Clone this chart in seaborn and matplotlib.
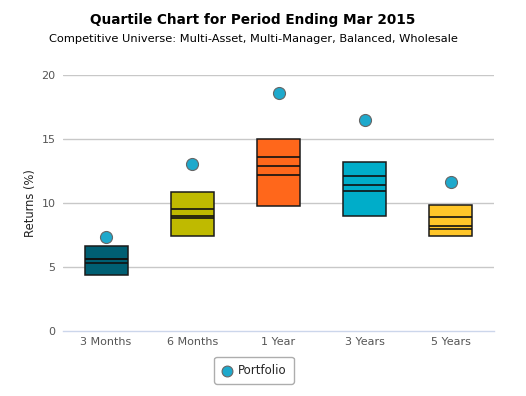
import matplotlib
matplotlib.use("Agg")
import matplotlib.pyplot as plt
import seaborn as sns
import pandas as pd
import numpy as np

periods = ["3 Months", "6 Months", "1 Year", "3 Years", "5 Years"]
box_low = [4.38, 7.42, 9.77, 8.98, 7.40]
box_high = [6.64, 10.83, 14.97, 13.23, 9.87]
q_upper = [5.60, 9.56, 13.57, 12.08, 8.93]
q_mid = [5.60, 8.98, 12.87, 11.38, 8.22]
q_lower = [5.29, 8.85, 12.21, 10.96, 7.99]
portfolio = [7.37, 13.05, 18.62, 16.50, 11.64]
box_colors = ["#005f73", "#bfba00", "#ff671b", "#00adc9", "#ffc629"]

sns.set_style("white")
plt.rcParams['font.family'] = ['DejaVu Sans']

fig = plt.figure(figsize=(5.26, 3.96), dpi=100)
ax = fig.add_axes([63/526, 1-331/396, (494-63)/526, (331-75)/396])

df = pd.DataFrame({"Period": periods, "Portfolio": portfolio})

# gridlines
for g in [5, 10, 15, 20]:
    ax.axhline(g, color="#c8c8c8", lw=1, zorder=0)

xpos = np.arange(len(periods))
ax.bar(xpos, np.array(box_high) - np.array(box_low), bottom=box_low, width=0.5,
       color=box_colors, edgecolor="#1a1a1a", linewidth=1.1, zorder=2)
for arr in (q_upper, q_mid, q_lower):
    ax.hlines(arr, xpos - 0.25, xpos + 0.25, color="#111111", lw=1.2, zorder=3)

sns.scatterplot(data=df, x="Period", y="Portfolio", ax=ax, s=75, color="#1ea9cc",
                edgecolor="#666666", linewidth=0.8, zorder=4, label="Portfolio")

ax.set_xlim(-0.5, 4.5)
ax.set_ylim(0, 20)
ax.set_yticks([0, 5, 10, 15, 20])
ax.set_xticks(xpos)
ax.set_xticklabels(periods)
ax.set_xticks(np.arange(-0.5, 5, 1), minor=True)
ax.tick_params(axis="x", which="major", length=0, pad=4, labelsize=8, labelcolor="#555555")
ax.tick_params(axis="x", which="minor", length=8, color="#ccd6eb", width=1, direction="out")
ax.tick_params(axis="y", length=0, pad=5.5, labelsize=8, labelcolor="#555555")
for s in ["top", "right", "left"]:
    ax.spines[s].set_visible(False)
ax.spines["bottom"].set_color("#ccd6eb")
ax.spines["bottom"].set_linewidth(1)
ax.set_xlabel("")
ax.set_ylabel("Returns (%)", fontsize=8.3, color="#222222", labelpad=3)

leg = ax.legend(loc="upper center", bbox_to_anchor=(0.443, -0.1), frameon=True,
                fontsize=8.5, handletextpad=0.4, borderpad=0.6, fancybox=True,
                markerscale=0.9, handlelength=1.0, borderaxespad=0)
leg.get_frame().set_edgecolor("#999999")
leg.get_frame().set_linewidth(1)

fig.text(253/526, 1-20/396, "Quartile Chart for Period Ending Mar 2015", ha="center", va="center",
         fontsize=9.8, fontweight="bold", color="#000000")
fig.text(253/526, 1-39/396, "Competitive Universe: Multi-Asset, Multi-Manager, Balanced, Wholesale",
         ha="center", va="center", fontsize=8.2, color="#000000")

fig.savefig("out.png", dpi=100)
